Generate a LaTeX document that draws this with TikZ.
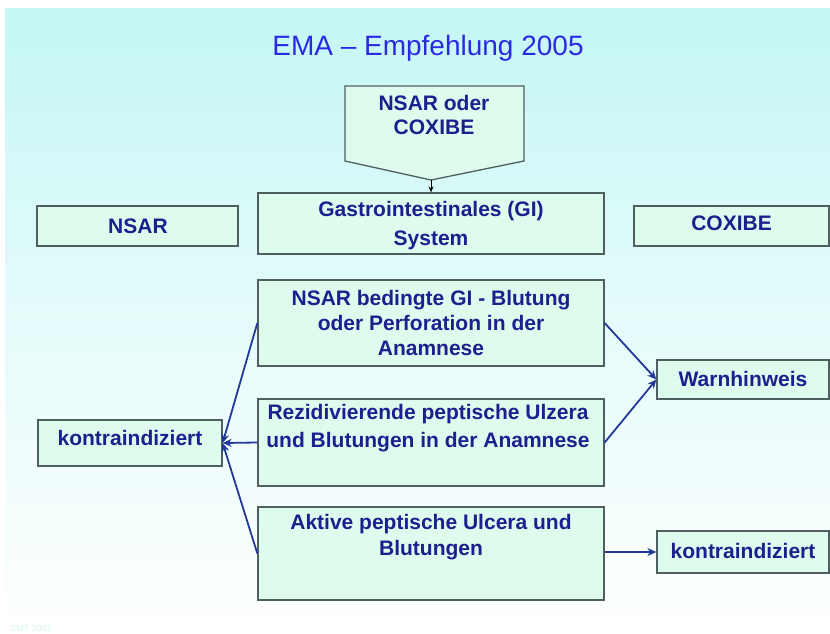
\documentclass[tikz,border=0pt]{standalone}
\usepackage{fontspec}
\setmainfont{Liberation Sans}
\usetikzlibrary{arrows.meta}
\definecolor{bgtop}{HTML}{C4F7F5}
\definecolor{boxfill}{HTML}{DEFCEE}
\definecolor{boxline}{HTML}{4F5E5E}
\definecolor{txtblue}{HTML}{1C1F8E}
\definecolor{titleblue}{HTML}{2A2AE6}
\definecolor{arrowblue}{HTML}{23399A}
\definecolor{faint}{HTML}{D6F7E6}
\tikzset{
  box/.style={draw=boxline, line width=1.3pt, fill=boxfill, rectangle, inner sep=0pt},
  txt/.style={text=txtblue, font=\fontsize{21}{26}\selectfont\bfseries, align=center, inner sep=0pt},
  conn/.style={draw=arrowblue, line width=1.8pt, -{Stealth[length=9pt,width=8pt]}},
}
\begin{document}
\begin{tikzpicture}[x=1pt,y=-1pt]
\useasboundingbox (0,0) rectangle (830,634);
\fill[white] (0,0) rectangle (830,634);
\shade[top color=bgtop, bottom color=white, middle color=bgtop!45!white] (5,9) rectangle (830,634);
\node[text=faint, font=\fontsize{9}{10}\selectfont, anchor=west, inner sep=0pt] (smt) at (10,628) {SMT 2007};
% title
\node[text=titleblue, font=\fontsize{28}{30}\selectfont, inner sep=0pt] (title) at (428,48) {EMA – Empfehlung 2005};
% pentagon
\draw[boxline, line width=1.3pt, fill=boxfill] (345,86) -- (524,86) -- (524,161) -- (431,180) -- (345,161) -- cycle;
\coordinate (tip) at (431,180);
\node[txt, font=\fontsize{21}{24}\selectfont\bfseries] (top) at (434,115) {NSAR oder\\COXIBE};
% boxes
\node[box, minimum width=346pt, minimum height=61pt] (gi) at (431,223.5) {};
\node[txt, font=\fontsize{21}{29}\selectfont\bfseries] (git) at (431,226) {Gastrointestinales (GI)\\System};
\node[box, minimum width=201pt, minimum height=40pt] (nsar) at (137.5,226) {};
\node[txt] (nsart) at (138,226) {NSAR};
\node[box, minimum width=195pt, minimum height=40pt] (cox) at (731.5,226) {};
\node[txt] (coxt) at (731.5,223) {COXIBE};
\node[box, minimum width=346pt, minimum height=86pt] (b1) at (431,323) {};
\node[txt, font=\fontsize{21}{25}\selectfont\bfseries] (b1t) at (431,323) {NSAR bedingte GI - Blutung\\oder Perforation in der\\Anamnese};
\node[box, minimum width=346pt, minimum height=87pt] (b2) at (431,442.5) {};
\node[txt, font=\fontsize{21}{28}\selectfont\bfseries] (b2t) at (428,428) {Rezidivierende peptische Ulzera\\und Blutungen in der Anamnese};
\node[box, minimum width=346pt, minimum height=93pt] (b3) at (431,553.5) {};
\node[txt, font=\fontsize{21}{26}\selectfont\bfseries] (b3t) at (431,537) {Aktive peptische Ulcera und\\Blutungen};
\node[box, minimum width=184pt, minimum height=46pt] (kl) at (130,443) {};
\node[txt] (klt) at (130,438) {kontraindiziert};
\node[box, minimum width=172pt, minimum height=39pt] (warn) at (743,379.5) {};
\node[txt] (warnt) at (743,379) {Warnhinweis};
\node[box, minimum width=172pt, minimum height=42pt] (kr) at (743,552) {};
\node[txt] (krt) at (743,551) {kontraindiziert};
% connectors
\draw[black, line width=0.9pt, -{Stealth[length=6pt,width=5pt]}] (tip) -- (gi.north);
\draw[conn] (b1.west) -- (kl.east);
\draw[conn] (b2.west) -- (kl.east);
\draw[conn] (b3.west) -- (kl.east);
\draw[conn] (b1.east) -- (warn.west);
\draw[conn] (b2.east) -- (warn.west);
\draw[conn] (b3.east |- kr.west) -- (kr.west);
\end{tikzpicture}
\end{document}
